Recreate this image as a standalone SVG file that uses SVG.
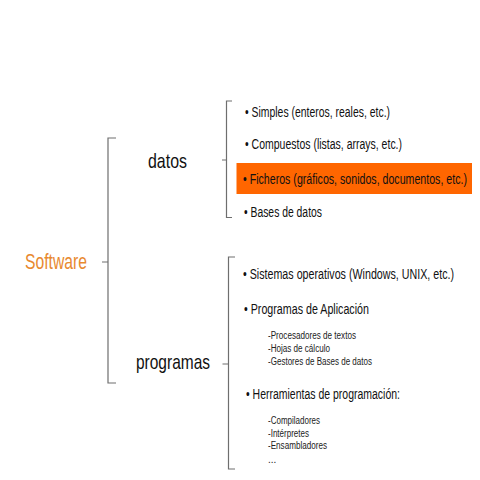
<svg xmlns="http://www.w3.org/2000/svg" width="480" height="480" viewBox="0 0 480 480">
<style>
text { font-family: "Liberation Sans", Arial, sans-serif; fill: #111; }
.big { font-size: 21px; }
.root { font-size: 22px; fill: #E8892F; }
.item { font-size: 14.5px; }
.sub { font-size: 10px; fill: #222; }
.br { fill: none; stroke: #6e6e6e; stroke-width: 1.2; }
</style>
<rect width="480" height="480" fill="#ffffff"/>
<g id="connectors">
  <path class="br" d="M116,138 H108 V383 H116 M102,262 H108"/>
  <path class="br" d="M232,101 H226.5 V217.5 H232 M222,160 H226.5"/>
  <path class="br" d="M235,257 H228.5 V469 H235 M222.5,364 H228.5"/>
</g>
<g id="software">
  <text class="root" x="25" y="269" textLength="62" lengthAdjust="spacingAndGlyphs">Software</text>
</g>
<g id="datos">
  <text class="big" x="148" y="168" textLength="39" lengthAdjust="spacingAndGlyphs">datos</text>
</g>
<g id="programas">
  <text class="big" x="136" y="369" textLength="74" lengthAdjust="spacingAndGlyphs">programas</text>
</g>
<g id="simples">
  <text class="item" transform="translate(245,117) scale(0.72,1)" textLength="201.4" lengthAdjust="spacingAndGlyphs">• Simples (enteros, reales, etc.)</text>
</g>
<g id="compuestos">
  <text class="item" transform="translate(245,149) scale(0.72,1)" textLength="218.1" lengthAdjust="spacingAndGlyphs">• Compuestos (listas, arrays, etc.)</text>
</g>
<g id="ficheros">
  <rect x="236.5" y="163" width="235.5" height="31" fill="#FF6600"/>
  <text class="item" transform="translate(243,184) scale(0.72,1)" textLength="311.1" lengthAdjust="spacingAndGlyphs">• Ficheros (gráficos, sonidos, documentos, etc.)</text>
</g>
<g id="bases">
  <text class="item" transform="translate(244,217) scale(0.72,1)" textLength="108.3" lengthAdjust="spacingAndGlyphs">• Bases de datos</text>
</g>
<g id="sistemas">
  <text class="item" transform="translate(243,279) scale(0.72,1)" textLength="293.1" lengthAdjust="spacingAndGlyphs">• Sistemas operativos (Windows, UNIX, etc.)</text>
</g>
<g id="aplicacion">
  <text class="item" transform="translate(244,314) scale(0.72,1)" textLength="173.6" lengthAdjust="spacingAndGlyphs">• Programas de Aplicación</text>
  <text class="sub" x="268" y="339" textLength="88" lengthAdjust="spacingAndGlyphs">-Procesadores de textos</text>
  <text class="sub" x="268" y="352" textLength="62" lengthAdjust="spacingAndGlyphs">-Hojas de cálculo</text>
  <text class="sub" x="268" y="365" textLength="104" lengthAdjust="spacingAndGlyphs">-Gestores de Bases de datos</text>
</g>
<g id="herramientas">
  <text class="item" transform="translate(246,399) scale(0.72,1)" textLength="213.9" lengthAdjust="spacingAndGlyphs">• Herramientas de programación:</text>
  <text class="sub" x="268" y="424" textLength="52" lengthAdjust="spacingAndGlyphs">-Compiladores</text>
  <text class="sub" x="268" y="437" textLength="41" lengthAdjust="spacingAndGlyphs">-Intérpretes</text>
  <text class="sub" x="268" y="449" textLength="59" lengthAdjust="spacingAndGlyphs">-Ensambladores</text>
  <text class="sub" x="268" y="463">...</text>
</g>
</svg>
